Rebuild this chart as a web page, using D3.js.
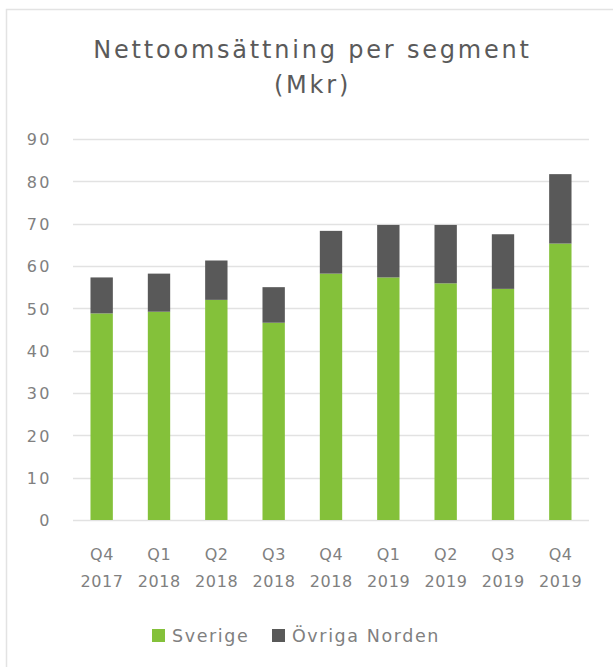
<!DOCTYPE html>
<html>
<head>
<meta charset="utf-8">
<script src="https://cdn.jsdelivr.net/npm/d3@7"></script>
<style>
  html, body { margin: 0; padding: 0; background: #ffffff; }
  svg { display: block; }
  text { font-family: "DejaVu Sans", "Noto Sans", sans-serif; }
</style>
</head>
<body>
<svg id="chart" width="613" height="667"></svg>
<script>
const quarters = ["Q4", "Q1", "Q2", "Q3", "Q4", "Q1", "Q2", "Q3", "Q4"];
const years = ["2017", "2018", "2018", "2018", "2018", "2019", "2019", "2019", "2019"];
const sverige = [48.8, 49.2, 52.0, 46.6, 58.2, 57.3, 55.9, 54.6, 65.3];
const ovrigaNorden = [8.5, 9.0, 9.3, 8.4, 10.1, 12.4, 13.8, 12.9, 16.4];
const yTicks = [0, 10, 20, 30, 40, 50, 60, 70, 80, 90];
const seriesNames = ["Sverige", "Övriga Norden"];
const title = ["Nettoomsättning per segment", "(Mkr)"];

const colors = { "Sverige": "#84c13a", "Övriga Norden": "#595959" };
const textColor = "#808080";

const svg = d3.select("#chart");

// outer frame
svg.append("rect")
  .attr("x", 6.5).attr("y", 9.5)
  .attr("width", 620).attr("height", 680)
  .attr("fill", "none").attr("stroke", "#e3e3e3").attr("stroke-width", 1.5);

const rows = quarters.map((q, i) => ({
  key: i, q, year: years[i], "Sverige": sverige[i], "Övriga Norden": ovrigaNorden[i]
}));

const x = d3.scaleBand()
  .domain(rows.map(d => d.key))
  .range([73, 589])
  .paddingInner(0.61)
  .paddingOuter(0.305);

const y = d3.scaleLinear().domain([0, 90]).range([520, 139]);

// gridlines
svg.append("g")
  .selectAll("line")
  .data(yTicks)
  .join("line")
  .attr("x1", 73).attr("x2", 589)
  .attr("y1", d => Math.round(y(d)) + 0.5)
  .attr("y2", d => Math.round(y(d)) + 0.5)
  .attr("stroke", "#e2e2e2").attr("stroke-width", 1.3);

// y axis labels
const yAxis = d3.axisLeft(y).tickValues(yTicks).tickSize(0).tickPadding(0);
const yg = svg.append("g").attr("transform", "translate(52,0)").call(yAxis);
yg.select(".domain").remove();
yg.selectAll("text")
  .attr("fill", textColor)
  .attr("font-size", 16)
  .attr("letter-spacing", 2.5)
  .attr("dy", "0.36em");

// stacked bars
const stack = d3.stack().keys(seriesNames);
const stacked = stack(rows);

svg.append("g")
  .selectAll("g")
  .data(stacked)
  .join("g")
  .attr("fill", d => colors[d.key])
  .selectAll("rect")
  .data(d => d)
  .join("rect")
  .attr("x", d => x(d.data.key))
  .attr("width", x.bandwidth())
  .attr("y", d => y(d[1]))
  .attr("height", d => y(d[0]) - y(d[1]));

// x axis labels
const xAxis = d3.axisBottom(x).tickSize(0).tickFormat(() => "");
const xg = svg.append("g").attr("transform", "translate(0,520)").call(xAxis);
xg.select(".domain").remove();
xg.selectAll(".tick text").remove();
xg.selectAll(".tick")
  .append("text")
  .attr("fill", textColor)
  .attr("font-size", 16)
  .attr("letter-spacing", 0.6)
  .attr("text-anchor", "middle")
  .attr("x", 0.3)
  .attr("y", 40)
  .text(d => rows[d].q);
xg.selectAll(".tick")
  .append("text")
  .attr("fill", textColor)
  .attr("font-size", 16)
  .attr("letter-spacing", 0.6)
  .attr("text-anchor", "middle")
  .attr("x", 0.3)
  .attr("y", 67)
  .text(d => rows[d].year);

// title
svg.append("g")
  .selectAll("text")
  .data(title)
  .join("text")
  .attr("x", 312.5)
  .attr("y", (d, i) => 58 + i * 35)
  .attr("text-anchor", "middle")
  .attr("font-size", 24)
  .attr("letter-spacing", 2.8)
  .attr("fill", "#5a5a5a")
  .text(d => d);

// legend
const legendItems = [
  { name: seriesNames[0], x: 152 },
  { name: seriesNames[1], x: 272 }
];
const lg = svg.append("g");
lg.selectAll("rect")
  .data(legendItems)
  .join("rect")
  .attr("x", d => d.x).attr("y", 629)
  .attr("width", 13).attr("height", 13)
  .attr("fill", d => colors[d.name]);
lg.selectAll("text")
  .data(legendItems)
  .join("text")
  .attr("x", d => d.x + 20)
  .attr("y", 642)
  .attr("font-size", 17.5)
  .attr("letter-spacing", 1.6)
  .attr("fill", textColor)
  .text(d => d.name);
</script>
</body>
</html>
